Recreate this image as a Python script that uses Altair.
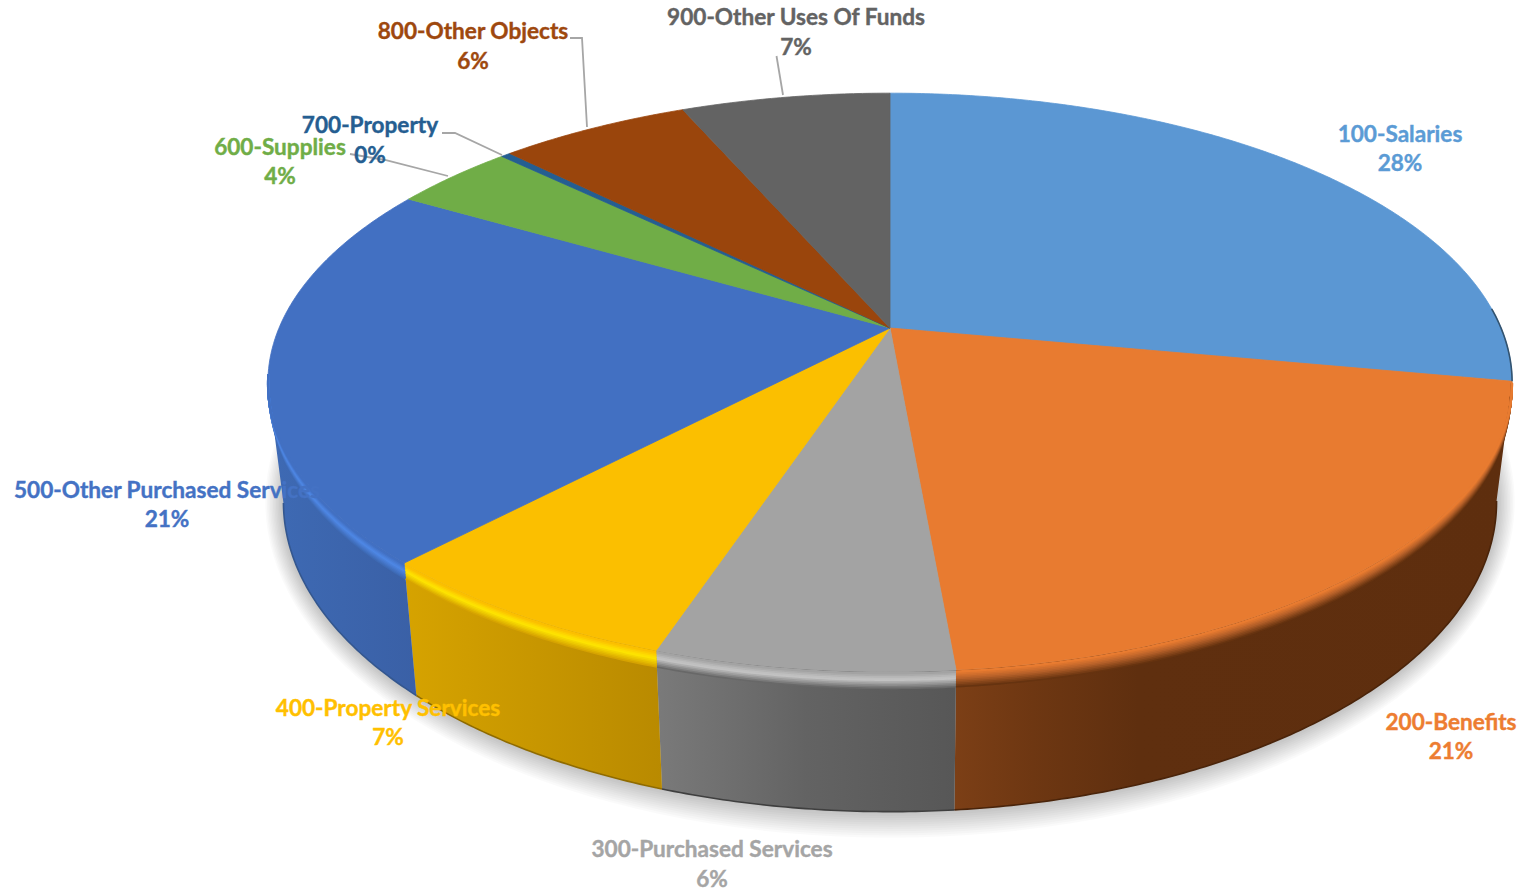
import math
import altair as alt

# Expenditure categories, their shares of the total (percent) and colours
names = ["100-Salaries", "200-Benefits", "300-Purchased Services", "400-Property Services",
         "500-Other Purchased Services", "600-Supplies", "700-Property", "800-Other Objects",
         "900-Other Uses Of Funds"]
shares = [27.95, 20.65, 6.49, 6.95, 21.4, 3.8, 0.3, 5.95, 6.51]
face_colors = ["#5b97d3", "#e87b30", "#a3a3a3", "#fbbf00", "#4270c2", "#70ad47", "#255e91", "#9a450c", "#636363"]
text_colors = ["#5b9bd5", "#ed7d31", "#a5a5a5", "#ffc000", "#4472c4", "#70ad47", "#255e91", "#9e480e", "#636363"]

# Label anchors: centre x, y of the name line, y of the percent line
label_x = [1400, 1451, 712, 388, 167, 280, 370, 473, 796]
name_y = [135, 723, 850, 709, 491, 148, 126, 32, 18]
pct_y = [164, 752, 880, 738, 520, 177, 156, 62, 48]

# Leader lines from labels to their slices
leaders = [
    [(350, 154), (385, 160), (448, 176)],
    [(442, 133), (455, 133), (502, 155)],
    [(570, 38), (582, 38), (587, 127)],
    [(776.5, 56), (783, 95)],
]

# Perspective camera for the tilted disc
CX, CY = 890.0, 328.0
AX, BY, K = 611.0, 279.0, 0.188
BOTTOM_SX, BOTTOM_SY, BOTTOM_CY = 0.975, 1.07, 444.0


def top_point(deg, r=1.0):
    t = math.radians(deg)
    w = 1 + K * r * math.cos(t)
    return CX + AX * r * math.sin(t) / w, CY - BY * r * math.cos(t) / w


def bottom_point(deg):
    x, y = top_point(deg)
    return CX + BOTTOM_SX * (x - CX), BOTTOM_CY + BOTTOM_SY * (y - CY)


def sweep(a, b, step=0.5):
    n = max(2, int(abs(b - a) / step) + 1)
    return [a + (b - a) * i / (n - 1) for i in range(n)]


def feature(kind, coords, **props):
    return {"type": "Feature", "geometry": {"type": kind, "coordinates": coords}, "properties": props}


def mix(c1, c2, t):
    p = [int(c1[i:i + 2], 16) for i in (1, 3, 5)]
    q = [int(c2[i:i + 2], 16) for i in (1, 3, 5)]
    return "#" + "".join(f"{round(a + (b - a) * t):02x}" for a, b in zip(p, q))


# Slice boundaries in degrees, clockwise from twelve o'clock
total = sum(shares)
edges = [0.0]
for s in shares:
    edges.append(edges[-1] + 360.0 * s / total)

faces = []
for i, c in enumerate(face_colors):
    ring = [(CX, CY)] + [top_point(d) for d in sweep(edges[i], edges[i + 1])] + [(CX, CY)]
    faces.append(feature("Polygon", [[list(p) for p in ring]], fill=c))

# Side wall shading: visible angular span and horizontal gradient per slice
LEFT_LIMIT = 259.0
RIGHT_LIMIT = edges[1]
wall_spec = [
    (1, [(0, "#7c3f16"), (0.14, "#6e3712"), (0.33, "#5f2f0f"), (1, "#5e2e0e")]),
    (2, [(0, "#7a7a7a"), (0.5, "#636363"), (1, "#575757")]),
    (3, [(0, "#d6a300"), (1, "#b98a00")]),
    (4, [(0, "#3e6ab4"), (1, "#3a60a6")]),
]
walls = []
for i, stops in wall_spec:
    a, b = max(edges[i], RIGHT_LIMIT), min(edges[i + 1], LEFT_LIMIT)
    ring = [top_point(d) for d in sweep(a, b)] + [bottom_point(d) for d in sweep(b, a)]
    ring.append(ring[0])
    walls.append((feature("Polygon", [[list(p) for p in ring]]), stops))

# Bevel along the front rim: face colour, highlight, wall colour
bevel_spec = {
    1: ("#e87b30", "#b8622a", "#663310"),
    2: ("#a3a3a3", "#c6c6c6", "#686868"),
    3: ("#fbbf00", "#ffe600", "#d6a300"),
    4: ("#4270c2", "#4f88e6", "#3e6ab4"),
}
bevel = []
STEPS = 10
MAX_FRAC = 0.105
HIGHLIGHT = 0.42
for i, (c_face, c_high, c_wall) in bevel_spec.items():
    a, b = edges[i], min(edges[i + 1], LEFT_LIMIT + 2)
    for j in range(STEPS):
        u = 1 - j / (STEPS - 1)
        col = mix(c_high, c_wall, (u - HIGHLIGHT) / (1 - HIGHLIGHT)) if u > HIGHLIGHT else mix(c_face, c_high, u / HIGHLIGHT)
        line = []
        for d in sweep(a, b):
            taper = min(1.0, max(0.0, (LEFT_LIMIT + 2 - d) / 14), max(0.0, (d - RIGHT_LIMIT + 1) / 10))
            frac = 0.012 + MAX_FRAC * u * taper
            tx, ty = top_point(d)
            bx, by = bottom_point(d)
            line.append([tx + frac * (bx - tx), ty + frac * (by - ty)])
        bevel.append(feature("LineString", line, stroke=col, w=2.4))

# Dark edge where the blue slice turns over the far right of the rim
bevel.append(feature("LineString", [list(top_point(d)) for d in sweep(86, edges[1])], stroke="#33536f", w=1.6))

# Darker contact line along the foot of each wall
base_colors = {1: "#4a240a", 2: "#3f3f3f", 3: "#8f6b00", 4: "#34578f"}
for i, col in base_colors.items():
    a, b = max(edges[i], RIGHT_LIMIT), min(edges[i + 1], LEFT_LIMIT)
    bevel.append(feature("LineString", [list(bottom_point(d)) for d in sweep(a, b)], stroke=col, w=1.6))

# Soft ground shadow from stacked translucent outlines of the base
shadow = []
ELLIPSE_CY = 504.0
for n in range(1, 13):
    t = n / 12
    ring = []
    for d in sweep(0, 360, 2):
        x, y = bottom_point(d)
        ring.append([CX + (1 + 0.03 * t) * (x - CX), ELLIPSE_CY + (1 + 0.085 * t) * (y - ELLIPSE_CY)])
    shadow.append(feature("Polygon", [ring]))

leader_features = [feature("LineString", [list(p) for p in pts]) for pts in leaders]

labels = []
for i, name in enumerate(names):
    labels.append({"txt": name, "x": label_x[i], "y": name_y[i], "c": text_colors[i]})
    labels.append({"txt": f"{round(shares[i])}%", "x": label_x[i], "y": pct_y[i], "c": text_colors[i]})

pixel = dict(type="identity", scale=1, translate=[0, 0])

layers = [
    alt.Chart(alt.Data(values=shadow)).mark_geoshape(fill="#000000", fillOpacity=0.02, strokeWidth=0).project(**pixel)
]
for feat, stops in walls:
    gradient = alt.Gradient(
        gradient="linear", x1=0, x2=1, y1=0, y2=0,
        stops=[alt.GradientStop(offset=o, color=c) for o, c in stops],
    )
    layers.append(alt.Chart(alt.Data(values=[feat])).mark_geoshape(fill=gradient, strokeWidth=0).project(**pixel))

layers.append(
    alt.Chart(alt.Data(values=faces)).mark_geoshape(strokeWidth=0.8).encode(
        fill=alt.Fill("properties.fill:N", scale=None),
        stroke=alt.Stroke("properties.fill:N", scale=None),
    ).project(**pixel)
)
layers.append(
    alt.Chart(alt.Data(values=bevel)).mark_geoshape(filled=False, strokeCap="butt").encode(
        stroke=alt.Stroke("properties.stroke:N", scale=None),
        strokeWidth=alt.StrokeWidth("properties.w:Q", scale=None),
    ).project(**pixel)
)
layers.append(
    alt.Chart(alt.Data(values=leader_features)).mark_geoshape(filled=False, stroke="#a6a6a6", strokeWidth=1.8).project(**pixel)
)
layers.append(
    alt.Chart(alt.Data(values=labels)).mark_text(
        font="Lato", fontSize=22.6, fontWeight="bold", align="center", baseline="middle", strokeWidth=0.4
    ).encode(
        x=alt.X("x:Q", scale=None, axis=None),
        y=alt.Y("y:Q", scale=None, axis=None),
        text="txt:N",
        color=alt.Color("c:N", scale=None, legend=None),
        stroke=alt.Stroke("c:N", scale=None, legend=None),
    )
)

chart = alt.layer(*layers).properties(
    width=1522, height=894, padding=0, autosize=alt.AutoSizeParams(type="none"), background="white"
).configure_view(stroke=None)

chart.save("out.html", embed_options={"renderer": "svg", "actions": False})
